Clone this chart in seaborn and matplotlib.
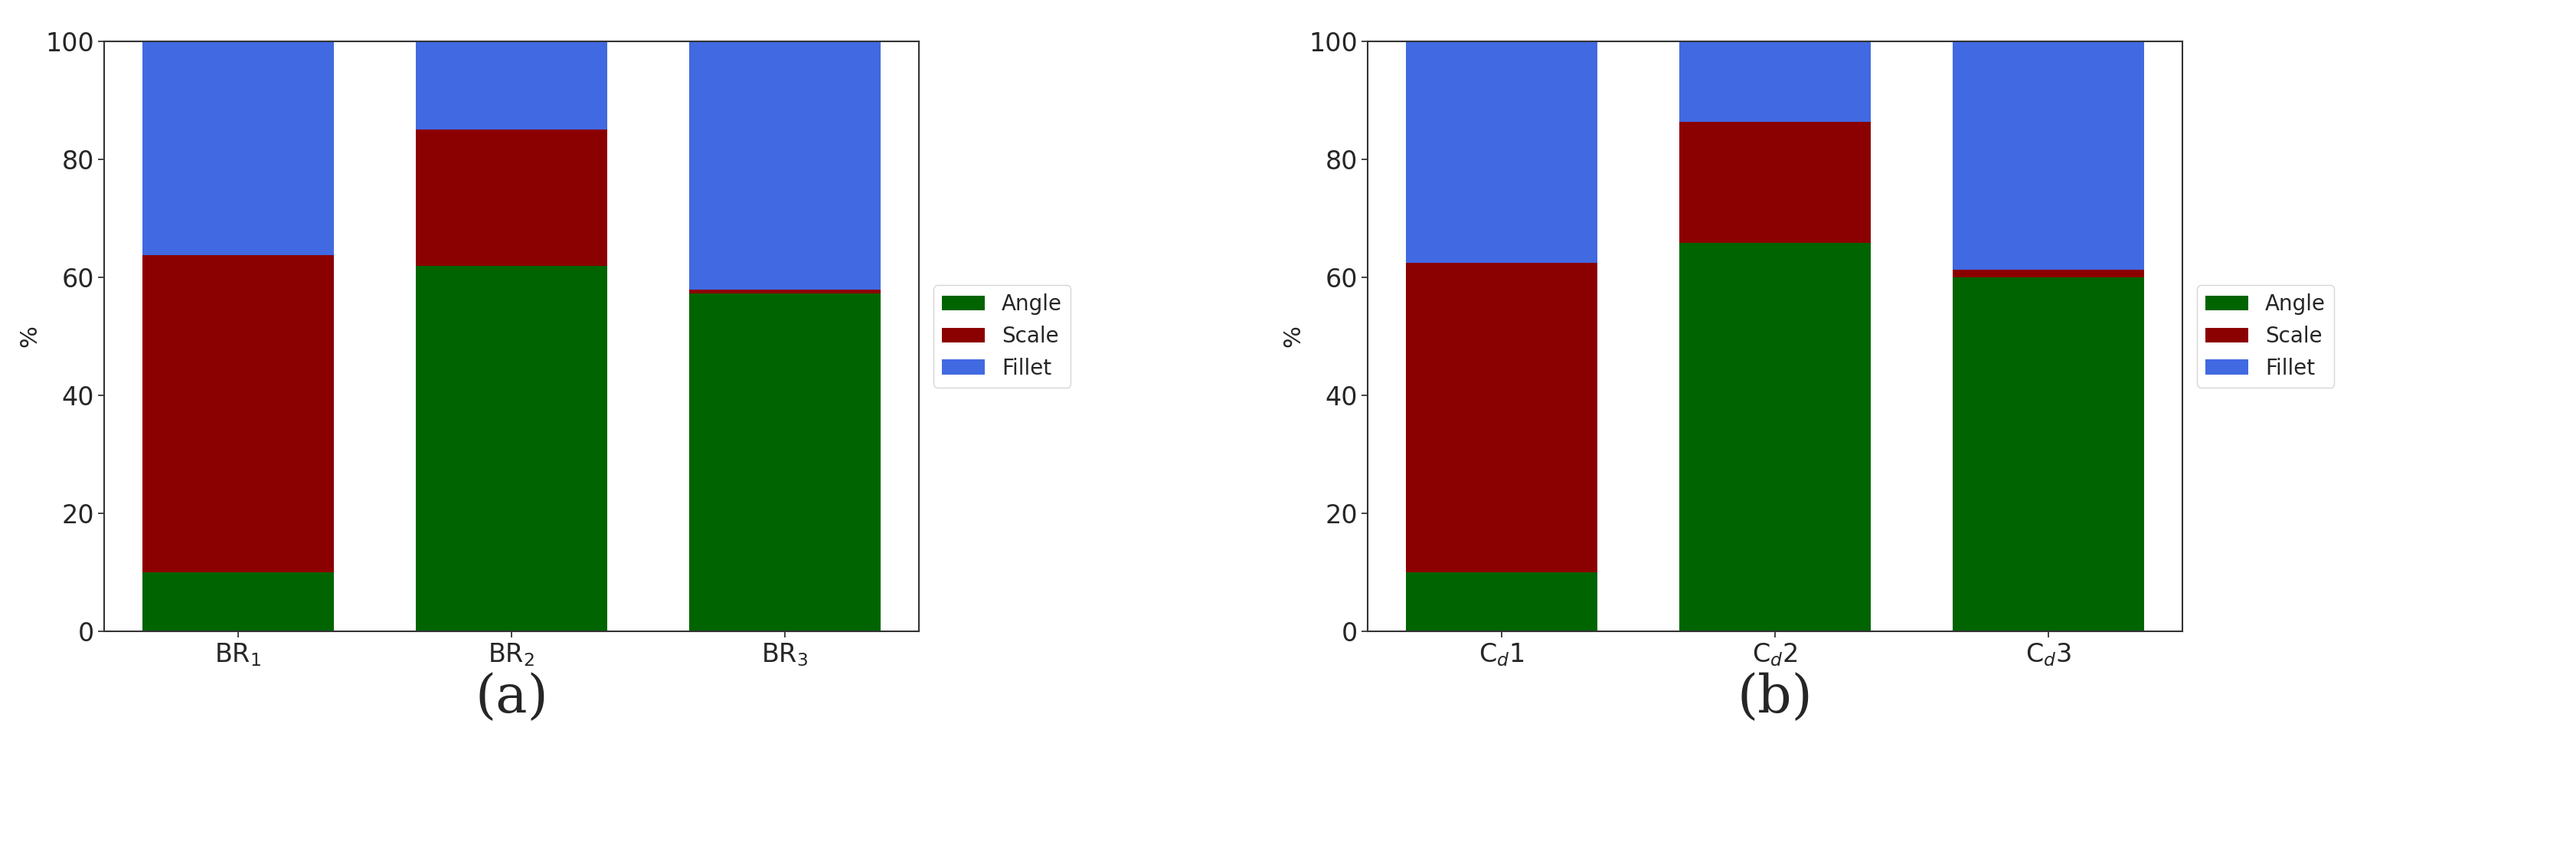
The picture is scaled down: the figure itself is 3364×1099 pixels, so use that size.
import numpy as np
import pandas as pd
import matplotlib.pyplot as plt
import seaborn as sns

sns.set_style('white')
plt.rcParams['font.family'] = 'DejaVu Sans'

# --- datos ---
cats_a = ['BR$_1$', 'BR$_2$', 'BR$_3$']
angle_a = [10.0, 62.0, 57.3]
scale_a = [53.8, 23.1, 0.6]
cats_b = ['C$_d$1', 'C$_d$2', 'C$_d$3']
angle_b = [10.0, 65.8, 60.0]
scale_b = [52.5, 20.5, 1.3]
labels = ['a', 'b']

colores = {'Angle': '#006400', 'Scale': '#8b0000', 'Fillet': '#4169e1'}

fig = plt.figure(figsize=(33.64, 10.99), dpi=100)
ax1 = fig.add_axes([136/3364, 1-824/1099, 1064/3364, 770/1099])
ax2 = fig.add_axes([1786/3364, 1-824/1099, 1064/3364, 770/1099])

for ax, cats, ang, sc, lab in zip([ax1, ax2], [cats_a, cats_b], [angle_a, angle_b],
                                  [scale_a, scale_b], labels):
    ang = np.array(ang)
    sc = np.array(sc)
    fil = 100 - ang - sc
    df = pd.DataFrame({'cat': cats, 'Angle': ang, 'Scale': sc, 'Fillet': fil})
    kw = dict(width=0.7, saturation=1, ax=ax, linewidth=0)
    sns.barplot(data=df, x='cat', y='Angle', color=colores['Angle'], label='Angle', **kw)
    sns.barplot(data=df, x='cat', y='Scale', bottom=df['Angle'], color=colores['Scale'],
                label='Scale', **kw)
    sns.barplot(data=df, x='cat', y='Fillet', bottom=df['Angle'] + df['Scale'],
                color=colores['Fillet'], label='Fillet', **kw)
    ax.set_ylim(0, 100)
    ax.set_xlim(-0.49, 2.49)
    ax.set_xlabel('')
    ax.set_ylabel('%', fontsize=22)
    ax.tick_params(axis='both', labelsize=24, length=6, width=1.2, bottom=True, left=True)
    for s in ax.spines.values():
        s.set_color('#333333')
        s.set_linewidth(1.5)
    ax.legend(loc='center left', bbox_to_anchor=(1.005, 0.5), fontsize=20,
              handlelength=2.0, frameon=True)
    ax.text(0.5, -0.07, f'({lab})', transform=ax.transAxes, ha='center', va='top',
            fontsize=50, family='DejaVu Serif')

plt.savefig('out.png', dpi=100)
